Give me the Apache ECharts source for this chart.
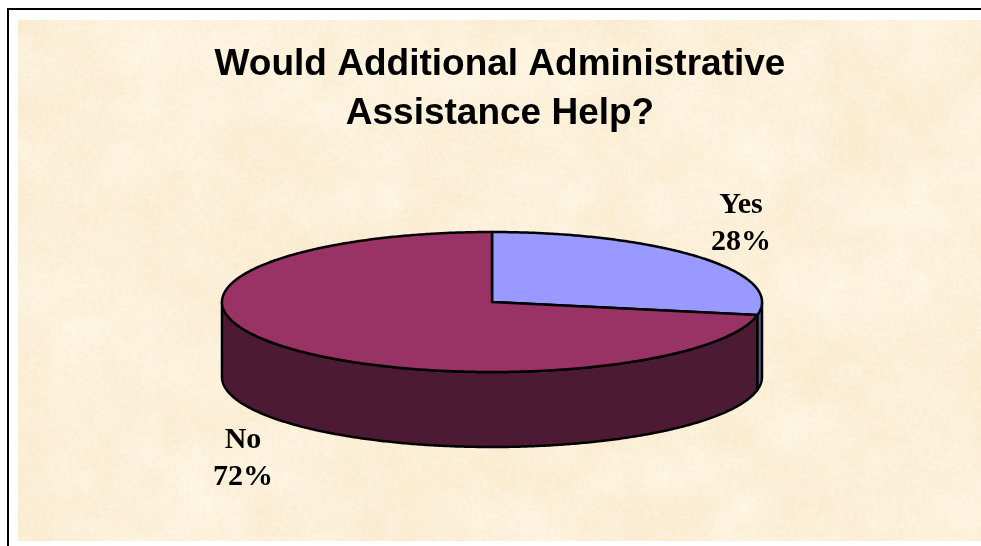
<!DOCTYPE html>
<html>
<head>
<meta charset="utf-8">
<style>html,body{margin:0;padding:0;background:#fff}#chart{width:981px;height:546px}</style>
<script src="https://cdn.jsdelivr.net/npm/echarts@6/dist/echarts.min.js"></script>
</head>
<body>
<div id="chart"></div>
<script>
// Survey answers and their shares in percent
const categories = ['Yes', 'No'];
const shares = [28, 72];
const topColors = ['#9999ff', '#993366'];
const sideColors = ['#56568f', '#4c1a33'];
const titleLines = ['Would Additional Administrative', 'Assistance Help?'];

// Mottled parchment fill, built from smooth deterministic value noise
function parchment(w, h) {
  const c = document.createElement('canvas');
  c.width = w; c.height = h;
  const ctx = c.getContext('2d');
  const img = ctx.createImageData(w, h);
  const hash = (x, y) => {
    const s = Math.sin(x * 127.1 + y * 311.7) * 43758.5453;
    return s - Math.floor(s);
  };
  const smooth = t => t * t * (3 - 2 * t);
  const noise = (x, y) => {
    const xi = Math.floor(x), yi = Math.floor(y);
    const u = smooth(x - xi), v = smooth(y - yi);
    const a = hash(xi, yi), b = hash(xi + 1, yi);
    const d = hash(xi, yi + 1), e = hash(xi + 1, yi + 1);
    return (a + (b - a) * u) * (1 - v) + (d + (e - d) * u) * v;
  };
  for (let y = 0; y < h; y++) {
    for (let x = 0; x < w; x++) {
      const broad = noise(x / 60, y / 45) * 0.6 + noise(x / 22, y / 22) * 0.4 - 0.5;
      const grain = noise(x / 2.6, y / 2.6) - 0.5;
      const t = broad * 0.75 + grain * 0.4;
      const i = (y * w + x) * 4;
      img.data[i] = 252 + t * 5;
      img.data[i + 1] = 240 + t * 14;
      img.data[i + 2] = 217 + t * 28;
      img.data[i + 3] = 255;
    }
  }
  ctx.putImageData(img, 0, 0);
  return c;
}

const cx = 492, cy = 302, rx = 270, ry = 70, depth = 75;
const total = shares.reduce((a, b) => a + b, 0);
const rim = (deg, drop) => {
  const r = deg * Math.PI / 180;
  return [cx + rx * Math.sin(r), cy - ry * Math.cos(r) + drop];
};
const arc = (from, to, drop) => {
  const pts = [];
  const n = Math.max(2, Math.ceil(Math.abs(to - from) * 2));
  for (let i = 0; i <= n; i++) pts.push(rim(from + (to - from) * i / n, drop));
  return pts;
};

function renderSlice(params, api) {
  const idx = params.dataIndex;
  const start = shares.slice(0, idx).reduce((a, b) => a + b, 0) / total * 360;
  const sweep = api.value(1) / total * 360;
  const end = start + sweep;
  const line = { stroke: '#000', lineWidth: 2.5, lineJoin: 'round' };
  const children = [];

  // The wall is visible only on the near half of the disc
  const a = Math.max(start, 90), b = Math.min(end, 270);
  if (b > a) {
    children.push({
      type: 'polygon',
      shape: { points: arc(a, b, 0).concat(arc(b, a, depth)) },
      style: Object.assign({ fill: sideColors[idx] }, line)
    });
  }
  children.push({
    type: 'polygon',
    shape: { points: [[cx, cy]].concat(arc(start, end, 0)) },
    style: Object.assign({ fill: topColors[idx] }, line)
  });

  // Label sits diagonally outside the rim at the slice's middle angle
  const mid = (start + end) / 2;
  const near = Math.cos(mid * Math.PI / 180) < 0;
  const anchor = rim(mid, near ? depth : 0);
  children.push({
    type: 'text',
    style: {
      text: categories[idx] + '\n' + api.value(1) + '%',
      x: anchor[0] + (Math.sin(mid * Math.PI / 180) > 0 ? 41 : -41),
      y: anchor[1] + (near ? 37 : -34),
      align: 'center',
      verticalAlign: 'middle',
      fill: '#000',
      fontFamily: '"Liberation Serif", serif',
      fontWeight: 'bold',
      fontSize: 30,
      lineHeight: 37
    }
  });
  return { type: 'group', children };
}

const chart = echarts.init(document.getElementById('chart'), null, { renderer: 'canvas' });
chart.setOption({
  animation: false,
  backgroundColor: '#ffffff',
  title: {
    text: titleLines.join('\n'),
    left: 495,
    top: 35,
    textAlign: 'center',
    textStyle: {
      fontFamily: '"Liberation Sans", Arial, sans-serif',
      fontWeight: 'bold',
      fontSize: 37,
      lineHeight: 49,
      color: '#000'
    }
  },
  graphic: [
    { type: 'image', z: 0, x: 18, y: 20, style: { image: parchment(963, 521), width: 963, height: 521 } },
    { type: 'rect', z: 1, shape: { x: 7, y: 8, width: 974, height: 2 }, style: { fill: '#000' } },
    { type: 'rect', z: 1, shape: { x: 7, y: 8, width: 2, height: 538 }, style: { fill: '#000' } }
  ],
  series: [{
    type: 'custom',
    coordinateSystem: 'none',
    z: 3,
    renderItem: renderSlice,
    data: categories.map((name, i) => ({ name, value: [i, shares[i]] }))
  }]
});
</script>
</body>
</html>
